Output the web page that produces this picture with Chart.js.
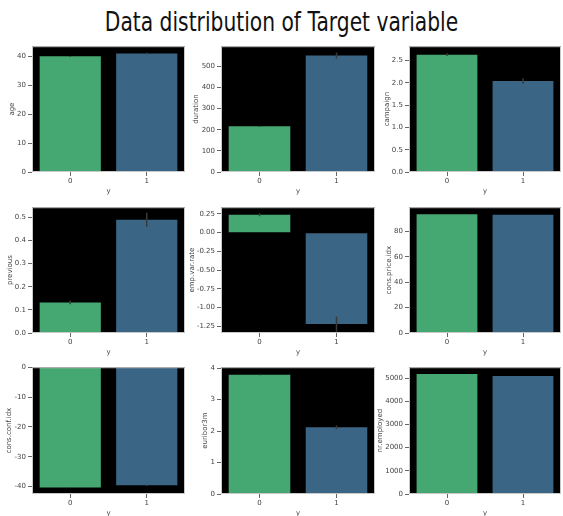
<!DOCTYPE html>
<html>
<head>
<meta charset="utf-8">
<script src="https://cdn.jsdelivr.net/npm/chart.js@4/dist/chart.umd.min.js"></script>
<style>
  html, body { margin: 0; padding: 0; background: #fff; }
  body { width: 563px; height: 516px; position: relative; overflow: hidden; font-family: "DejaVu Sans", sans-serif; }
  #title { position: absolute; left: 0; width: 563px; top: 6px; text-align: center; font-size: 27px; color: #111; transform: scaleX(0.75); transform-origin: 50% 0; }
  .panel { position: absolute; }
</style>
</head>
<body>
<div id="title">Data distribution of Target variable</div>

<script>
// Data, one panel per feature, x = target y (0 / 1)
const categories = ['0', '1'];
const features = ['age', 'duration', 'campaign', 'previous', 'emp.var.rate', 'cons.price.idx', 'cons.conf.idx', 'euribor3m', 'nr.employed'];
const meanTarget0 = [39.9, 216, 2.63, 0.132, 0.24, 93.6, -40.3, 3.79, 5175];
const meanTarget1 = [40.9, 551, 2.04, 0.49, -1.22, 93.2, -39.6, 2.12, 5088];
const err0 = [0.1, 3, 0.03, 0.008, 0.02, 0.02, 0.05, 0.02, 1];
const err1 = [0.35, 14, 0.06, 0.03, 0.1, 0.05, 0.2, 0.06, 3];
const yMin = [0, 0, 0, 0, -1.34, 0, -42.5, 0, 0];
const yMax = [43.4, 595, 2.82, 0.544, 0.34, 99.1, 0, 4.03, 5470];
const yStep = [10, 100, 0.5, 0.1, 0.25, 20, 10, 1, 1000];
const yDecimals = [0, 0, 1, 1, 2, 0, 0, 0, 0];

const barColors = ['#45a772', '#3b6584'];

// plot areas in page pixels
const colLeft = [32, 221, 409];
const colWidth = [153, 154, 152];
const rowTop = [44, 205, 365];
const rowHeight = [128, 128, 129];

const Y_AXIS_W = 32, X_AXIS_H = 23, PAD_TOP = 4, PAD_RIGHT = 2;
const AXIS_FONT = '7px "DejaVu Sans"';

const errorBars = {
  id: 'errorBars',
  afterDatasetsDraw(chart, args, opts) {
    const {ctx, scales: {x, y}} = chart;
    const data = chart.data.datasets[0].data;
    ctx.save();
    ctx.strokeStyle = '#3a3a3a';
    ctx.lineWidth = 1.5;
    data.forEach((v, i) => {
      const e = opts.errors[i];
      const px = x.getPixelForValue(i);
      ctx.beginPath();
      ctx.moveTo(px, y.getPixelForValue(v - e));
      ctx.lineTo(px, y.getPixelForValue(v + e));
      ctx.stroke();
    });
    // frame around plot area
    const a = chart.chartArea;
    ctx.strokeStyle = '#c8c8c8';
    ctx.lineWidth = 1;
    ctx.strokeRect(a.left + 0.5, a.top + 0.5, a.right - a.left - 1, a.bottom - a.top - 1);
    ctx.restore();
  }
};

// y title placed just outside the widest tick label, like matplotlib
const yTitle = {
  id: 'yTitle',
  afterDraw(chart, args, opts) {
    const {ctx, chartArea: a, scales: {y}} = chart;
    ctx.save();
    ctx.font = AXIS_FONT;
    const widest = Math.max(...y.ticks.map(t => ctx.measureText(y.options.ticks.callback(t.value)).width));
    const xPos = a.left - 4 - 2 - widest - 5;
    ctx.translate(xPos, (a.top + a.bottom) / 2);
    ctx.rotate(-Math.PI / 2);
    ctx.fillStyle = '#444';
    ctx.textAlign = 'center';
    ctx.textBaseline = 'middle';
    ctx.fillText(opts.text, 0, 0);
    ctx.restore();
  }
};

const blackBg = {
  id: 'blackBg',
  beforeDatasetsDraw(chart) {
    const {ctx, chartArea: a} = chart;
    ctx.save();
    ctx.fillStyle = '#000';
    ctx.fillRect(a.left, a.top, a.right - a.left, a.bottom - a.top);
    ctx.restore();
  }
};

features.forEach((name, k) => {
  const r = Math.floor(k / 3), c = k % 3;
  const div = document.createElement('div');
  div.className = 'panel';
  const w = colWidth[c] + Y_AXIS_W + PAD_RIGHT;
  const h = rowHeight[r] + PAD_TOP + X_AXIS_H;
  div.style.left = (colLeft[c] - Y_AXIS_W) + 'px';
  div.style.top = (rowTop[r] - PAD_TOP) + 'px';
  div.style.width = w + 'px';
  div.style.height = h + 'px';
  const cv = document.createElement('canvas');
  div.appendChild(cv);
  document.body.appendChild(div);

  new Chart(cv.getContext('2d'), {
    type: 'bar',
    data: {
      labels: categories,
      datasets: [{
        data: [meanTarget0[k], meanTarget1[k]],
        backgroundColor: barColors,
        borderWidth: 0,
        barPercentage: 0.8,
        categoryPercentage: 1.0
      }]
    },
    options: {
      responsive: true, maintainAspectRatio: false, animation: false,
      layout: {padding: {top: PAD_TOP, right: PAD_RIGHT, left: 0, bottom: 0}},
      scales: {
        x: {
          grid: {display: true, offset: false, drawOnChartArea: false, tickLength: 4, color: '#666'},
          border: {display: false},
          ticks: {color: '#444', font: {family: 'DejaVu Sans', size: 7}, padding: 1},
          title: {display: true, text: 'y', color: '#444', font: {family: 'DejaVu Sans', size: 7}, padding: {top: 1, bottom: 0}},
          afterFit: s => { s.height = X_AXIS_H; }
        },
        y: {
          min: yMin[k], max: yMax[k],
          grid: {display: true, drawOnChartArea: false, tickLength: 4, color: '#666'},
          border: {display: false},
          afterBuildTicks: s => {
            const st = yStep[k], ticks = [];
            for (let i = Math.ceil(yMin[k] / st - 1e-9); i <= Math.floor(yMax[k] / st + 1e-9); i++) {
              ticks.push({value: +(i * st).toFixed(4)});
            }
            s.ticks = ticks;
          },
          ticks: {
            color: '#444', padding: 2,
            font: {family: 'DejaVu Sans', size: 7},
            callback: v => v.toFixed(yDecimals[k])
          },
          afterFit: s => { s.width = Y_AXIS_W; }
        }
      },
      plugins: {
        legend: {display: false},
        tooltip: {enabled: false},
        errorBars: {errors: [err0[k], err1[k]]},
        yTitle: {text: name}
      }
    },
    plugins: [blackBg, errorBars, yTitle]
  });
});
</script>
</body>
</html>
